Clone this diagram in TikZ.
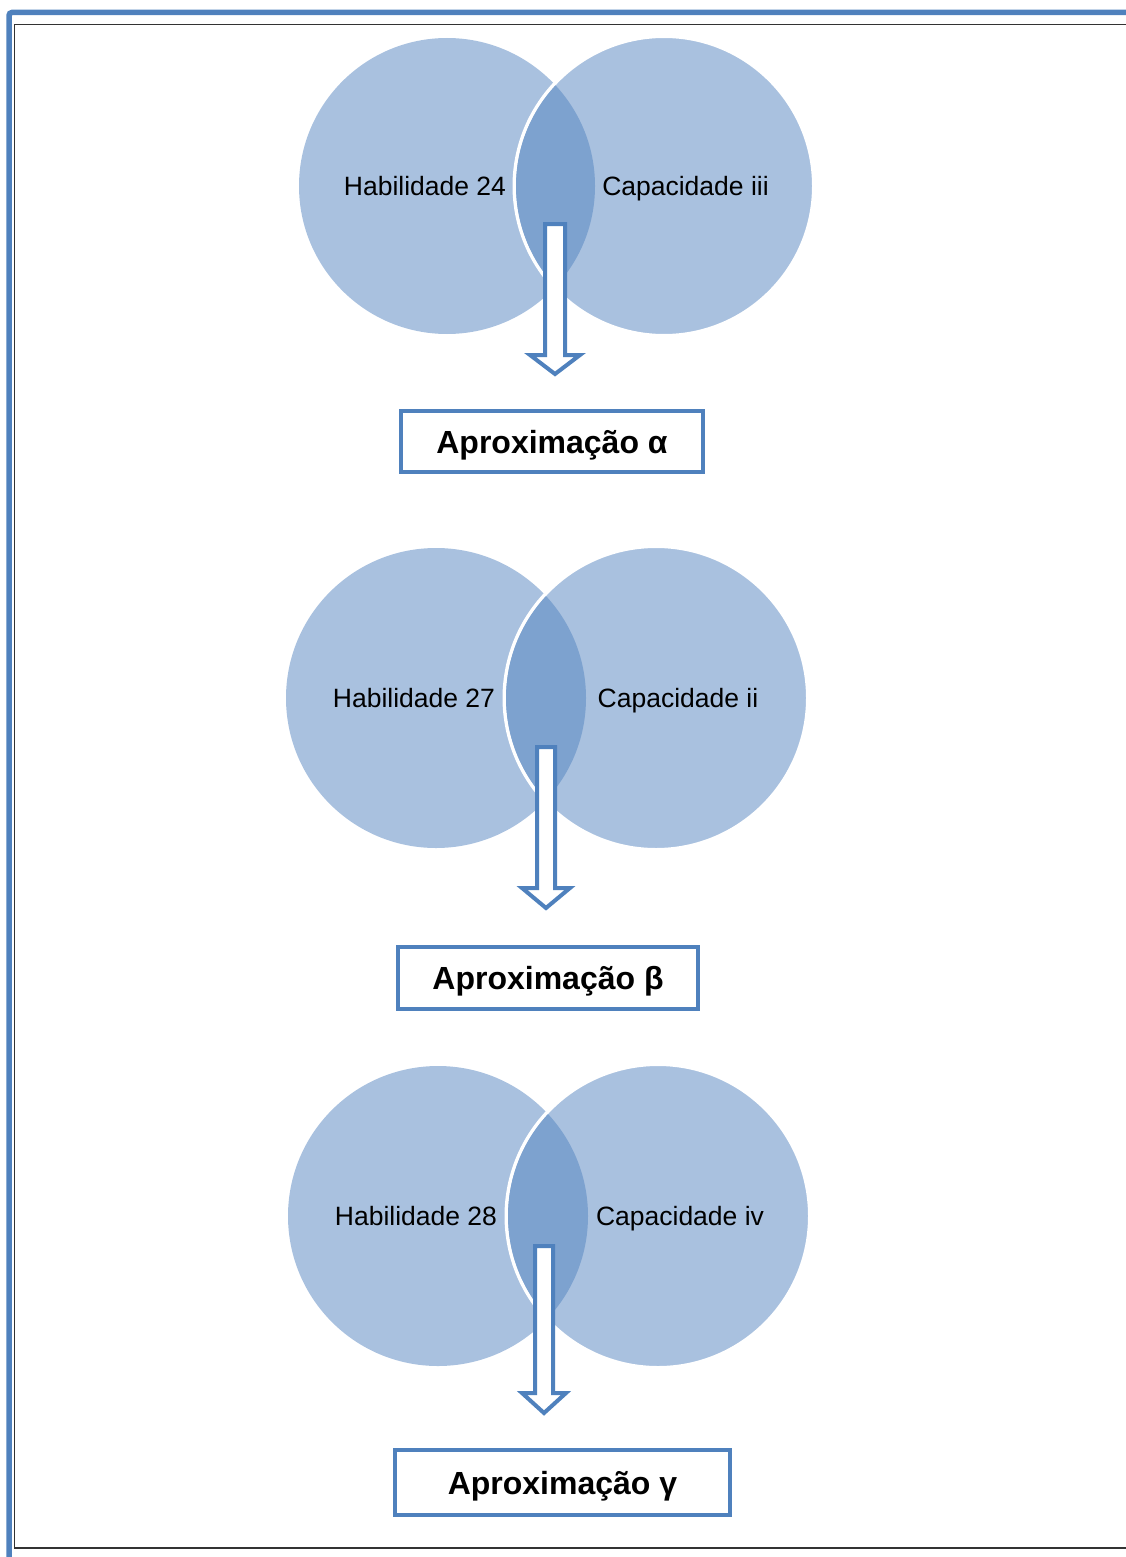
\documentclass[tikz,border=0pt]{standalone}
\usepackage{fontspec}
\setmainfont{Liberation Sans}
\definecolor{lightc}{RGB}{169,193,223}
\definecolor{darkc}{RGB}{125,162,207}
\definecolor{bord}{RGB}{79,129,189}
\newcommand\vennpair[5]{% name, cx1, cx2, cy, r
  \node[circle, fill=lightc, minimum size=#5*2pt, inner sep=0pt, outer sep=0pt] (#1L) at (#2,#4) {};
  \node[circle, fill=lightc, draw=white, line width=3.5pt, minimum size=#5*2pt+3.5pt, inner sep=0pt, outer sep=0pt] (#1R) at (#3,#4) {};
  \begin{scope}
    \clip (#1L.center) circle[radius=#5pt];
    \fill[darkc] (#1R.center) circle[radius=#5pt];
  \end{scope}
}
\newcommand\blockarrow[6]{% x, ytop, yneck, ytip, halfshaft, halfhead
  \draw[bord, fill=white, line width=4pt, line join=miter]
    (#1-#5,#2) -- (#1+#5,#2) -- (#1+#5,#3) -- (#1+#6,#3) -- (#1,#4)
    -- (#1-#6,#3) -- (#1-#5,#3) -- cycle;
}
\tikzset{
  lbl/.style={font=\fontsize{26.5}{30}\selectfont, text height=19pt, text depth=0pt, inner sep=0pt},
  aprox/.style={draw=bord, line width=4.6pt, fill=white, font=\fontsize{32}{36}\selectfont\bfseries, text height=23pt, text depth=0pt, inner sep=0pt, outer sep=0pt}
}
\begin{document}
\begin{tikzpicture}[x=1pt,y=-1pt]
\useasboundingbox (0,0) rectangle (1126,1557);
% frames
\draw[bord, line width=5.5pt, rounded corners=3pt] (9,1570) -- (9,12.5) -- (1140,12.5);
\draw[black!80, line width=1.6pt] (1140,24.5) -- (14.5,24.5) -- (14.5,1548) -- (1140,1548);

% set 1
\vennpair{a}{447}{664}{186}{148}
\node[lbl] (ha) at (425,186) {Habilidade 24};
\node[lbl] (ca) at (685.5,186) {Capacidade iii};
\blockarrow{555}{224}{355}{374}{10}{25}
\node[aprox, minimum width=302pt, minimum height=61pt] (bxa) at (552,441.5) {Aproximação α};

% set 2
\vennpair{b}{436}{656}{698}{150}
\node[lbl] (hb) at (414,698) {Habilidade 27};
\node[lbl] (cb) at (678,698) {Capacidade ii};
\blockarrow{546}{747}{888}{908}{9}{24}
\node[aprox, minimum width=300pt, minimum height=62pt] (bxb) at (548,978) {Aproximação β};

% set 3
\vennpair{c}{438}{658}{1216}{150}
\node[lbl] (hc) at (416,1216) {Habilidade 28};
\node[lbl] (cc) at (680,1216) {Capacidade iv};
\blockarrow{544}{1246}{1393}{1413}{9}{22}
\node[aprox, minimum width=335pt, minimum height=65pt] (bxc) at (562.5,1482.5) {Aproximação γ};
\end{tikzpicture}
\end{document}
